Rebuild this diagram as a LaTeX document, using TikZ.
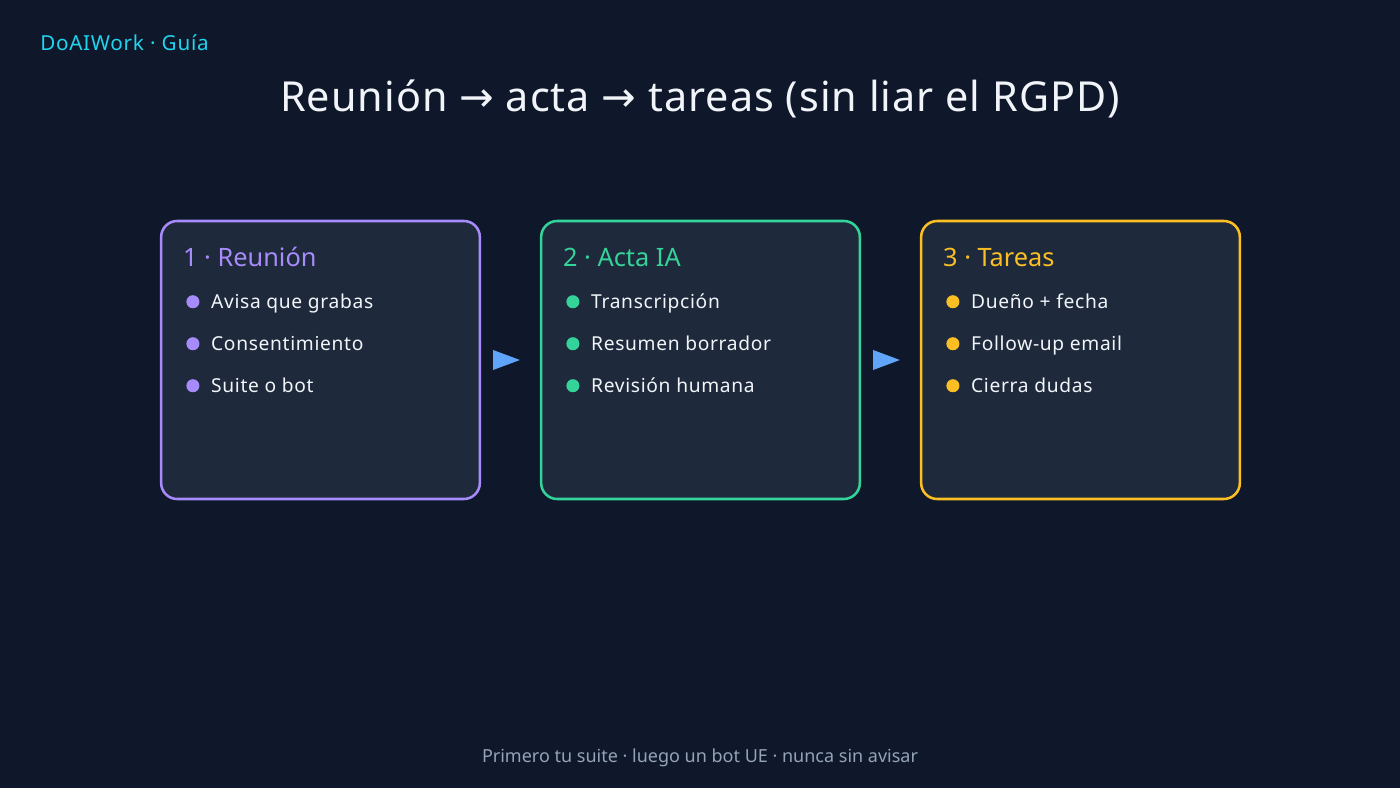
\documentclass[tikz,border=0pt]{standalone}
\usepackage{fontspec}
\setmainfont{Noto Sans}
\newfontfamily\widefont{Noto Sans}[LetterSpace=3.5]
\newfontfamily\titlefont{Noto Sans}[LetterSpace=2.5]
\newfontfamily\symfont{DejaVu Sans}
\definecolor{bg}{HTML}{0F172A}
\definecolor{card}{HTML}{1E293B}
\definecolor{cpurple}{HTML}{A78BFA}
\definecolor{cgreen}{HTML}{34D399}
\definecolor{camber}{HTML}{FBBF24}
\definecolor{cblue}{HTML}{60A5FA}
\definecolor{ccyan}{HTML}{22D3EE}
\definecolor{cgray}{HTML}{94A3B8}
\definecolor{ctext}{HTML}{F1F5F9}
\tikzset{
  cardbox/.style={draw=#1, line width=1.9pt, fill=card, rounded corners=12pt,
    minimum width=239pt, minimum height=208.5pt, inner sep=0pt},
  headtxt/.style={text=#1, font=\fontsize{19}{22}\selectfont, anchor=base west, inner sep=0pt},
  itemtxt/.style={text=ctext, font=\widefont\fontsize{14.4}{17}\selectfont, anchor=base west, inner sep=0pt},
  dotb/.style={circle, fill=#1, minimum size=9.8pt, inner sep=0pt},
  tri/.style={fill=cblue},
}
\begin{document}
\begin{tikzpicture}[x=0.75pt,y=-0.75pt]
\fill[bg] (0,0) rectangle (1400,788);
\useasboundingbox (0,0) rectangle (1400,788);
\node[anchor=west, text=ccyan, font=\widefont\fontsize{15.5}{18}\selectfont, inner sep=0pt] (brand) at (40,43) {DoAIWork · Guía};
\node[anchor=base, text=ctext, font=\titlefont\fontsize{31}{36}\selectfont, inner sep=0pt] (title) at (700,112) {Reunión {\symfont →} acta {\symfont →} tareas (sin liar el RGPD)};
\node[text=cgray, font=\fontsize{13.5}{16}\selectfont, inner sep=0pt] (foot) at (700,758) {Primero tu suite · luego un bot UE · nunca sin avisar};

\foreach \i/\x/\c/\h/\a/\b/\d in {
  1/320.5/cpurple/{1 · Reunión}/{Avisa que grabas}/{Consentimiento}/{Suite o bot},
  2/700.5/cgreen/{2 · Acta IA}/{Transcripción}/{Resumen borrador}/{Revisión humana},
  3/1080.5/camber/{3 · Tareas}/{Dueño + fecha}/{Follow-up email}/{Cierra dudas}}{
  \node[cardbox=\c] (b\i) at (\x,360) {};
  \node[headtxt=\c] (h\i) at ([shift={(23,47)}]b\i.north west) {\h};
  \node[dotb=\c] (d\i a) at ([shift={(33,82)}]b\i.north west) {};
  \node[dotb=\c] (d\i b) at ([shift={(33,124)}]b\i.north west) {};
  \node[dotb=\c] (d\i c) at ([shift={(33,166)}]b\i.north west) {};
  \node[itemtxt] (t\i a) at ([shift={(18,7)}]d\i a.center) {\a};
  \node[itemtxt] (t\i b) at ([shift={(18,7)}]d\i b.center) {\b};
  \node[itemtxt] (t\i c) at ([shift={(18,7)}]d\i c.center) {\d};
}
\foreach \p/\q in {1/2,2/3}{
  \fill[tri] ([shift={(12,-10)}]b\p.east) -- ([shift={(-20,0)}]b\q.west) -- ([shift={(12,10)}]b\p.east) -- cycle;
}
\end{tikzpicture}
\end{document}
